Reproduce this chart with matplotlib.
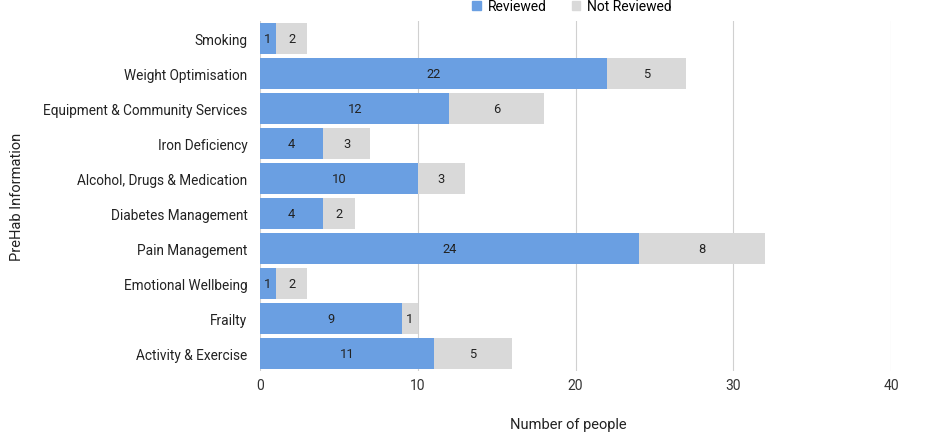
import matplotlib
matplotlib.use("Agg")
import matplotlib.pyplot as plt
from matplotlib.patches import Patch

categories = ["Smoking", "Weight Optimisation", "Equipment & Community Services",
              "Iron Deficiency", "Alcohol, Drugs & Medication", "Diabetes Management",
              "Pain Management", "Emotional Wellbeing", "Frailty", "Activity & Exercise"]
reviewed = [1, 22, 12, 4, 10, 4, 24, 1, 9, 11]
not_reviewed = [2, 5, 6, 3, 3, 2, 8, 2, 1, 5]
xticks = [0, 10, 20, 30, 40]

plt.rcParams['font.family'] = ['Roboto', 'DejaVu Sans']
BLUE = "#6a9fe2"
GREY = "#d9d9d9"

fig = plt.figure(figsize=(9.45, 4.35), dpi=100)
ax = fig.add_axes([260/945, 1-372/435, 631/945, 350/435])

y = list(range(len(categories)))
ax.barh(y, reviewed, height=0.9, color=BLUE, zorder=2)
ax.barh(y, not_reviewed, left=reviewed, height=0.9, color=GREY, zorder=2)

for i in y:
    ax.text(reviewed[i]/2, i, str(reviewed[i]), ha='center', va='center',
            fontsize=9.3, color='#222222', zorder=3)
    ax.text(reviewed[i] + not_reviewed[i]/2, i, str(not_reviewed[i]), ha='center',
            va='center', fontsize=9.3, color='#222222', zorder=3)

ax.set_ylim(len(categories)-0.5, -0.5)
ax.set_xlim(0, 40)
ax.set_xticks(xticks)
ax.set_xticklabels([str(t) for t in xticks], fontsize=10, color='#333333')
ax.set_yticks(y)
ax.set_yticklabels(categories, fontsize=9.8, color='#222222')
ax.tick_params(axis='y', length=0, pad=9)
ax.tick_params(axis='x', length=0, pad=5)
ax.grid(axis='x', color='#d0d0d0', linewidth=0.8, zorder=0)
for s in ax.spines.values():
    s.set_visible(False)

ax.set_xlabel("Number of people", fontsize=10.5, color='#222222')
ax.set_ylabel("PreHab Information", fontsize=10.5, color='#222222', labelpad=14)
ax.xaxis.set_label_coords(0.488, -(425-372)/350)
ax.xaxis.label.set_va('center')

handles = [Patch(color=BLUE, label="Reviewed"), Patch(color=GREY, label="Not Reviewed")]
fig.legend(handles=handles, loc='center', bbox_to_anchor=(572/945, 1-7/435), ncol=2,
           frameon=False, fontsize=10, handlelength=0.6, handleheight=0.6,
           columnspacing=1.8, handletextpad=0.5)

fig.savefig("out.png", dpi=100)
